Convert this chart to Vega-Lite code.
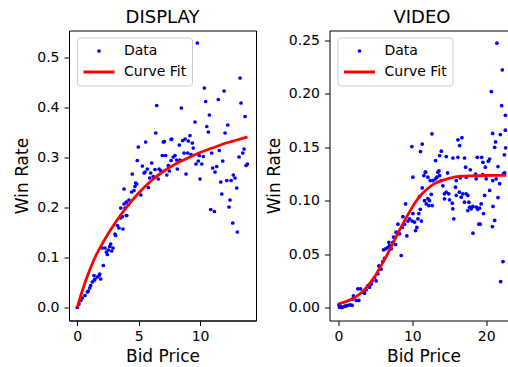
{
  "$schema": "https://vega.github.io/schema/vega-lite/v6.json",
  "padding": {"left": 13, "top": 8.5, "right": 0, "bottom": 0},
  "background": "white",
  "config": {
    "font": "DejaVu Sans",
    "view": {"stroke": "black", "strokeWidth": 1},
    "axis": {"grid": false, "domainColor": "black", "tickColor": "black", "labelColor": "black", "titleColor": "black", "labelFontSize": 14, "titleFontSize": 17, "titleFontWeight": "normal", "tickSize": 5, "domainWidth": 1, "tickWidth": 1, "labelFont": "DejaVu Sans", "titleFont": "DejaVu Sans"},
    "axisX": {"labelPadding": 4, "titlePadding": 5, "labelFlush": false},
    "axisY": {"labelPadding": 5, "titlePadding": 5, "labelFlush": false},
    "title": {"fontSize": 18, "fontWeight": "normal", "font": "DejaVu Sans", "color": "black", "frame": "group", "anchor": "middle", "baseline": "alphabetic", "offset": 3.5},
    "legend": {"orient": "none", "legendY": 7, "fillColor": "white", "strokeColor": "#cccccc", "cornerRadius": 3, "padding": 5, "labelFontSize": 14, "labelColor": "black", "labelFont": "DejaVu Sans", "labelOffset": 8, "rowPadding": 4, "clipHeight": 17, "symbolStrokeWidth": 2.8, "symbolOpacity": 1}
  },
  "datasets": {
    "display": [
      {"x":0,"y":0,"series":"Data"},{"x":0.14,"y":0.007,"series":"Data"},{"x":0.28,"y":0.014,"series":"Data"},{"x":0.41,"y":0.019,"series":"Data"},{"x":0.63,"y":0.024,"series":"Data"},{"x":0.82,"y":0.031,"series":"Data"},{"x":0.9,"y":0.033,"series":"Data"},{"x":1.01,"y":0.039,"series":"Data"},{"x":1.09,"y":0.044,"series":"Data"},{"x":1.22,"y":0.051,"series":"Data"},{"x":1.36,"y":0.054,"series":"Data"},{"x":1.44,"y":0.057,"series":"Data"},{"x":1.36,"y":0.064,"series":"Data"},{"x":1.63,"y":0.061,"series":"Data"},{"x":1.77,"y":0.064,"series":"Data"},{"x":1.91,"y":0.057,"series":"Data"},{"x":1.83,"y":0.067,"series":"Data"},{"x":2.12,"y":0.084,"series":"Data"},{"x":2.04,"y":0.119,"series":"Data"},{"x":2.26,"y":0.119,"series":"Data"},{"x":2.37,"y":0.111,"series":"Data"},{"x":2.45,"y":0.106,"series":"Data"},{"x":2.53,"y":0.115,"series":"Data"},{"x":2.64,"y":0.122,"series":"Data"},{"x":2.72,"y":0.127,"series":"Data"},{"x":2.8,"y":0.113,"series":"Data"},{"x":2.91,"y":0.119,"series":"Data"},{"x":3.07,"y":0.147,"series":"Data"},{"x":3.13,"y":0.144,"series":"Data"},{"x":3.26,"y":0.164,"series":"Data"},{"x":3.4,"y":0.159,"series":"Data"},{"x":3.54,"y":0.179,"series":"Data"},{"x":3.67,"y":0.182,"series":"Data"},{"x":3.72,"y":0.157,"series":"Data"},{"x":3.99,"y":0.184,"series":"Data"},{"x":3.54,"y":0.199,"series":"Data"},{"x":3.81,"y":0.207,"series":"Data"},{"x":3.99,"y":0.211,"series":"Data"},{"x":4.16,"y":0.206,"series":"Data"},
      {"x":4.21,"y":0.215,"series":"Data"},{"x":3.89,"y":0.199,"series":"Data"},{"x":4.03,"y":0.184,"series":"Data"},{"x":3.81,"y":0.237,"series":"Data"},{"x":4.43,"y":0.231,"series":"Data"},{"x":4.62,"y":0.234,"series":"Data"},{"x":4.7,"y":0.242,"series":"Data"},{"x":4.76,"y":0.249,"series":"Data"},{"x":4.84,"y":0.247,"series":"Data"},{"x":4.48,"y":0.267,"series":"Data"},{"x":5.18,"y":0.225,"series":"Data"},{"x":5.79,"y":0.24,"series":"Data"},{"x":5.3,"y":0.283,"series":"Data"},{"x":5.44,"y":0.269,"series":"Data"},{"x":5.52,"y":0.271,"series":"Data"},{"x":5.71,"y":0.277,"series":"Data"},{"x":5.9,"y":0.259,"series":"Data"},{"x":5.98,"y":0.269,"series":"Data"},{"x":6.06,"y":0.289,"series":"Data"},{"x":6.19,"y":0.262,"series":"Data"},{"x":6.33,"y":0.276,"series":"Data"},{"x":6.6,"y":0.257,"series":"Data"},{"x":6.66,"y":0.277,"series":"Data"},{"x":6.8,"y":0.274,"series":"Data"},{"x":4.89,"y":0.294,"series":"Data"},{"x":4.97,"y":0.321,"series":"Data"},{"x":5.57,"y":0.331,"series":"Data"},{"x":6.39,"y":0.349,"series":"Data"},{"x":6.47,"y":0.404,"series":"Data"},{"x":7.01,"y":0.331,"series":"Data"},{"x":6.93,"y":0.304,"series":"Data"},{"x":7.09,"y":0.332,"series":"Data"},{"x":7.29,"y":0.265,"series":"Data"},{"x":7.64,"y":0.336,"series":"Data"},{"x":7.69,"y":0.337,"series":"Data"},{"x":8.31,"y":0.325,"series":"Data"},{"x":8.48,"y":0.399,"series":"Data"},
      {"x":9.78,"y":0.529,"series":"Data"},{"x":13.26,"y":0.459,"series":"Data"},{"x":10.35,"y":0.439,"series":"Data"},{"x":11.96,"y":0.433,"series":"Data"},{"x":10.46,"y":0.412,"series":"Data"},{"x":11.49,"y":0.416,"series":"Data"},{"x":13.34,"y":0.409,"series":"Data"},{"x":10.76,"y":0.385,"series":"Data"},{"x":13.67,"y":0.382,"series":"Data"},{"x":9.59,"y":0.371,"series":"Data"},{"x":10.55,"y":0.362,"series":"Data"},{"x":12.26,"y":0.365,"series":"Data"},{"x":9.18,"y":0.344,"series":"Data"},{"x":10.68,"y":0.351,"series":"Data"},{"x":12.04,"y":0.349,"series":"Data"},{"x":8.78,"y":0.337,"series":"Data"},
      {"x":8.59,"y":0.334,"series":"Data"},{"x":9.05,"y":0.333,"series":"Data"},{"x":9.37,"y":0.329,"series":"Data"},{"x":9.45,"y":0.319,"series":"Data"},{"x":7.2,"y":0.304,"series":"Data"},{"x":7.96,"y":0.304,"series":"Data"},{"x":7.82,"y":0.301,"series":"Data"},{"x":8.7,"y":0.309,"series":"Data"},{"x":9.0,"y":0.309,"series":"Data"},{"x":9.27,"y":0.306,"series":"Data"},{"x":9.94,"y":0.304,"series":"Data"},{"x":10.27,"y":0.302,"series":"Data"},{"x":10.95,"y":0.309,"series":"Data"},{"x":11.57,"y":0.314,"series":"Data"},{"x":13.59,"y":0.317,"series":"Data"},{"x":13.48,"y":0.309,"series":"Data"},{"x":13.18,"y":0.301,"series":"Data"},{"x":7.64,"y":0.294,"series":"Data"},{"x":8.1,"y":0.295,"series":"Data"},{"x":8.37,"y":0.295,"series":"Data"},{"x":7.42,"y":0.284,"series":"Data"},{"x":9.86,"y":0.293,"series":"Data"},{"x":9.67,"y":0.287,"series":"Data"},{"x":10.14,"y":0.287,"series":"Data"},{"x":11.85,"y":0.293,"series":"Data"},{"x":7.5,"y":0.273,"series":"Data"},{"x":8.15,"y":0.277,"series":"Data"},{"x":8.86,"y":0.267,"series":"Data"},{"x":11.03,"y":0.279,"series":"Data"},{"x":11.36,"y":0.282,"series":"Data"},{"x":11.22,"y":0.271,"series":"Data"},{"x":13.86,"y":0.287,"series":"Data"},{"x":13.75,"y":0.284,"series":"Data"},{"x":12.71,"y":0.265,"series":"Data"},{"x":12.85,"y":0.259,"series":"Data"},{"x":10.0,"y":0.257,"series":"Data"},{"x":11.69,"y":0.251,"series":"Data"},{"x":12.18,"y":0.254,"series":"Data"},{"x":12.53,"y":0.254,"series":"Data"},{"x":12.99,"y":0.239,"series":"Data"},{"x":11.77,"y":0.227,"series":"Data"},{"x":12.44,"y":0.215,"series":"Data"},{"x":12.36,"y":0.201,"series":"Data"},{"x":10.87,"y":0.196,"series":"Data"},{"x":11.17,"y":0.192,"series":"Data"},{"x":12.66,"y":0.169,"series":"Data"},{"x":13.04,"y":0.151,"series":"Data"}
    ],
    "displayFit": [
      {"x":0,"y":0},{"x":0.25,"y":0.021},{"x":0.5,"y":0.04},{"x":0.75,"y":0.058},{"x":1,"y":0.074},{"x":1.5,"y":0.103},{"x":2,"y":0.126},{"x":2.5,"y":0.147},{"x":3,"y":0.166},{"x":3.5,"y":0.184},{"x":4,"y":0.2},{"x":5,"y":0.229},{"x":6,"y":0.253},{"x":7,"y":0.272},{"x":8,"y":0.287},{"x":9,"y":0.299},{"x":10,"y":0.31},{"x":11,"y":0.319},{"x":12,"y":0.328},{"x":13,"y":0.335},{"x":13.87,"y":0.341}
    ],
    "video": [
      {"x":0.05,"y":0.0025,"series":"Data"},{"x":0.14,"y":0.0003,"series":"Data"},{"x":0.3,"y":0.001,"series":"Data"},{"x":0.5,"y":0.0,"series":"Data"},{"x":0.81,"y":0.001,"series":"Data"},{"x":1.0,"y":0.0015,"series":"Data"},{"x":1.26,"y":0.002,"series":"Data"},{"x":1.58,"y":0.0025,"series":"Data"},{"x":1.85,"y":0.002,"series":"Data"},{"x":2.03,"y":0.011,"series":"Data"},{"x":1.94,"y":0.008,"series":"Data"},{"x":2.4,"y":0.0066,"series":"Data"},{"x":2.75,"y":0.0066,"series":"Data"},{"x":2.62,"y":0.0175,"series":"Data"},{"x":2.98,"y":0.0175,"series":"Data"},{"x":3.3,"y":0.0143,"series":"Data"},{"x":3.52,"y":0.0134,"series":"Data"},{"x":3.75,"y":0.0166,"series":"Data"},{"x":3.97,"y":0.0206,"series":"Data"},{"x":4.2,"y":0.019,"series":"Data"},{"x":4.43,"y":0.022,"series":"Data"},{"x":4.56,"y":0.025,"series":"Data"},{"x":4.88,"y":0.028,"series":"Data"},{"x":5.1,"y":0.025,"series":"Data"},{"x":5.33,"y":0.0316,"series":"Data"},{"x":5.56,"y":0.038,"series":"Data"},{"x":5.46,"y":0.039,"series":"Data"},{"x":5.78,"y":0.036,"series":"Data"},{"x":6.0,"y":0.043,"series":"Data"},{"x":6.23,"y":0.046,"series":"Data"},{"x":6.1,"y":0.054,"series":"Data"},{"x":6.37,"y":0.055,"series":"Data"},{"x":6.68,"y":0.056,"series":"Data"},{"x":6.82,"y":0.061,"series":"Data"},{"x":6.91,"y":0.058,"series":"Data"},{"x":7.14,"y":0.055,"series":"Data"},{"x":7.36,"y":0.061,"series":"Data"},{"x":7.45,"y":0.066,"series":"Data"},{"x":7.72,"y":0.059,"series":"Data"},{"x":7.81,"y":0.0705,"series":"Data"},{"x":8.04,"y":0.078,"series":"Data"},{"x":8.27,"y":0.069,"series":"Data"},{"x":8.49,"y":0.0487,"series":"Data"},{"x":8.63,"y":0.075,"series":"Data"},{"x":8.72,"y":0.085,"series":"Data"},{"x":8.94,"y":0.078,"series":"Data"},{"x":9.08,"y":0.097,"series":"Data"},{"x":9.26,"y":0.067,"series":"Data"},{"x":9.4,"y":0.081,"series":"Data"},{"x":9.62,"y":0.083,"series":"Data"},{"x":9.98,"y":0.081,"series":"Data"},{"x":10.07,"y":0.088,"series":"Data"},{"x":10.3,"y":0.08,"series":"Data"},{"x":10.43,"y":0.072,"series":"Data"},{"x":10.61,"y":0.075,"series":"Data"},{"x":10.75,"y":0.083,"series":"Data"},{"x":10.88,"y":0.088,"series":"Data"},{"x":11.07,"y":0.092,"series":"Data"},{"x":11.21,"y":0.081,"series":"Data"},{"x":10.98,"y":0.104,"series":"Data"},{"x":11.34,"y":0.112,"series":"Data"},{"x":11.65,"y":0.1,"series":"Data"},{"x":11.88,"y":0.097,"series":"Data"},{"x":12.1,"y":0.102,"series":"Data"},{"x":12.24,"y":0.0955,"series":"Data"},{"x":12.7,"y":0.0955,"series":"Data"},{"x":12.33,"y":0.1,"series":"Data"},{"x":12.56,"y":0.106,"series":"Data"},
      {"x":11.56,"y":0.1236,"series":"Data"},{"x":11.75,"y":0.1267,"series":"Data"},{"x":12.1,"y":0.122,"series":"Data"},{"x":12.42,"y":0.1189,"series":"Data"},{"x":12.78,"y":0.1189,"series":"Data"},{"x":13.14,"y":0.1205,"series":"Data"},{"x":13.45,"y":0.1267,"series":"Data"},{"x":13.32,"y":0.122,"series":"Data"},{"x":13.68,"y":0.1236,"series":"Data"},{"x":13.92,"y":0.1189,"series":"Data"},{"x":10.07,"y":0.122,"series":"Data"},
      {"x":15.94,"y":0.1189,"series":"Data"},{"x":16.48,"y":0.1214,"series":"Data"},{"x":17.29,"y":0.122,"series":"Data"},{"x":18.64,"y":0.1205,"series":"Data"},{"x":19.54,"y":0.1245,"series":"Data"},{"x":20.0,"y":0.1205,"series":"Data"},{"x":20.89,"y":0.1189,"series":"Data"},{"x":21.35,"y":0.1205,"series":"Data"},
      {"x":14.13,"y":0.114,"series":"Data"},{"x":14.35,"y":0.1065,"series":"Data"},{"x":14.58,"y":0.108,"series":"Data"},{"x":14.93,"y":0.1065,"series":"Data"},{"x":14.35,"y":0.1018,"series":"Data"},{"x":15.03,"y":0.1009,"series":"Data"},{"x":15.4,"y":0.0977,"series":"Data"},{"x":15.48,"y":0.0924,"series":"Data"},{"x":15.61,"y":0.0831,"series":"Data"},{"x":15.84,"y":0.1127,"series":"Data"},{"x":15.94,"y":0.1049,"series":"Data"},{"x":16.38,"y":0.108,"series":"Data"},{"x":16.61,"y":0.1033,"series":"Data"},{"x":16.83,"y":0.1065,"series":"Data"},{"x":17.06,"y":0.0986,"series":"Data"},{"x":17.29,"y":0.1065,"series":"Data"},{"x":17.51,"y":0.1049,"series":"Data"},{"x":17.65,"y":0.0986,"series":"Data"},{"x":17.74,"y":0.0939,"series":"Data"},{"x":17.51,"y":0.0908,"series":"Data"},{"x":17.97,"y":0.0924,"series":"Data"},
      {"x":18.19,"y":0.0946,"series":"Data"},{"x":18.64,"y":0.094,"series":"Data"},{"x":18.86,"y":0.092,"series":"Data"},{"x":19.09,"y":0.093,"series":"Data"},{"x":19.32,"y":0.097,"series":"Data"},{"x":19.63,"y":0.088,"series":"Data"},{"x":19.0,"y":0.078,"series":"Data"},{"x":19.19,"y":0.078,"series":"Data"},{"x":18.2,"y":0.0696,"series":"Data"},{"x":19.78,"y":0.105,"series":"Data"},{"x":20.46,"y":0.1096,"series":"Data"},{"x":20.91,"y":0.0946,"series":"Data"},{"x":21.14,"y":0.0815,"series":"Data"},{"x":20.83,"y":0.0758,"series":"Data"},{"x":21.59,"y":0.103,"series":"Data"},{"x":21.82,"y":0.116,"series":"Data"},{"x":22.27,"y":0.043,"series":"Data"},{"x":21.95,"y":0.0243,"series":"Data"},{"x":22.5,"y":0.126,"series":"Data"},
      {"x":21.45,"y":0.2475,"series":"Data"},{"x":22.18,"y":0.2226,"series":"Data"},{"x":20.69,"y":0.2022,"series":"Data"},{"x":22.09,"y":0.189,"series":"Data"},{"x":22.6,"y":0.18,"series":"Data"},{"x":20.87,"y":0.163,"series":"Data"},{"x":22.59,"y":0.166,"series":"Data"},{"x":21.91,"y":0.162,"series":"Data"},{"x":12.65,"y":0.1626,"series":"Data"},{"x":16.17,"y":0.157,"series":"Data"},{"x":16.71,"y":0.159,"series":"Data"},{"x":11.34,"y":0.153,"series":"Data"},{"x":9.93,"y":0.1507,"series":"Data"},{"x":16.4,"y":0.1517,"series":"Data"},{"x":21.27,"y":0.155,"series":"Data"},{"x":21.14,"y":0.15,"series":"Data"},{"x":11.11,"y":0.146,"series":"Data"},{"x":13.92,"y":0.1464,"series":"Data"},{"x":13.69,"y":0.1423,"series":"Data"},{"x":13.14,"y":0.1376,"series":"Data"},{"x":14.59,"y":0.1414,"series":"Data"},{"x":15.49,"y":0.14,"series":"Data"},{"x":16.17,"y":0.1407,"series":"Data"},{"x":17.07,"y":0.14,"series":"Data"},{"x":18.79,"y":0.1407,"series":"Data"},{"x":19.38,"y":0.1407,"series":"Data"},{"x":20.46,"y":0.139,"series":"Data"},{"x":20.28,"y":0.137,"series":"Data"},{"x":19.55,"y":0.136,"series":"Data"},{"x":22.45,"y":0.143,"series":"Data"},{"x":22.63,"y":0.1495,"series":"Data"},{"x":11.79,"y":0.1267,"series":"Data"},{"x":13.6,"y":0.128,"series":"Data"},{"x":14.77,"y":0.126,"series":"Data"},{"x":17.21,"y":0.1314,"series":"Data"},{"x":17.84,"y":0.129,"series":"Data"},{"x":18.56,"y":0.125,"series":"Data"},{"x":19.88,"y":0.1314,"series":"Data"},{"x":21.59,"y":0.132,"series":"Data"},{"x":22.36,"y":0.1257,"series":"Data"}
    ],
    "videoFit": [
      {"x":0,"y":0.0035},{"x":1,"y":0.0055},{"x":2,"y":0.0087},{"x":3,"y":0.0134},{"x":4,"y":0.0205},{"x":5,"y":0.03},{"x":6,"y":0.042},{"x":7,"y":0.055},{"x":8,"y":0.069},{"x":9,"y":0.082},{"x":10,"y":0.094},{"x":11,"y":0.104},{"x":12,"y":0.111},{"x":13,"y":0.116},{"x":14,"y":0.119},{"x":15,"y":0.121},{"x":16,"y":0.1225},{"x":18,"y":0.1233},{"x":20,"y":0.1236},{"x":22.7,"y":0.1237}
    ]
  },
  "spacing": 7.5,
  "resolve": {"scale": {"x": "independent", "y": "independent", "shape": "independent", "fill": "independent", "stroke": "independent", "size": "independent"}, "legend": {"shape": "independent", "fill": "independent", "stroke": "independent", "size": "independent"}},
  "hconcat": [
    {
      "title": {"text": "DISPLAY"},
      "width": 187,
      "height": 290,
      "layer": [
        {
          "data": {"name": "display"},
          "mark": {"type": "point", "filled": true, "opacity": 1, "strokeWidth": 0},
          "encoding": {
            "x": {"field": "x", "type": "quantitative", "scale": {"domain": [-0.676, 14.56], "nice": false, "zero": false}, "axis": {"values": [0, 5, 10], "title": "Bid Price"}},
            "y": {"field": "y", "type": "quantitative", "scale": {"domain": [-0.026, 0.554], "nice": false, "zero": false}, "axis": {"values": [0, 0.1, 0.2, 0.3, 0.4, 0.5], "format": ".1f", "title": "Win Rate"}},
            "shape": {"field": "series", "type": "nominal", "scale": {"domain": ["Data", "Curve Fit"], "range": ["circle", "stroke"]}, "legend": {"title": null, "legendX": 8, "legendY": 7}},
            "size": {"field": "series", "type": "nominal", "scale": {"domain": ["Data", "Curve Fit"], "range": [14, 961]}, "legend": {"title": null, "legendX": 8, "legendY": 7}},
            "fill": {"field": "series", "type": "nominal", "scale": {"domain": ["Data", "Curve Fit"], "range": ["blue", "red"]}, "legend": {"title": null, "legendX": 8, "legendY": 7}},
            "stroke": {"field": "series", "type": "nominal", "scale": {"domain": ["Data", "Curve Fit"], "range": ["transparent", "red"]}, "legend": {"title": null, "legendX": 8, "legendY": 7}}
          }
        },
        {
          "data": {"name": "displayFit"},
          "mark": {"type": "line", "color": "red", "strokeWidth": 2.8, "interpolate": "monotone"},
          "encoding": {
            "x": {"field": "x", "type": "quantitative"},
            "y": {"field": "y", "type": "quantitative"}
          }
        }
      ]
    },
    {
      "title": {"text": "VIDEO", "dx": 3.5},
      "width": 178,
      "height": 290,
      "view": {"stroke": null},
      "resolve": {"axis": {"x": "independent"}},
      "layer": [
        {
          "data": {"name": "video"},
          "mark": {"type": "point", "filled": true, "opacity": 1, "strokeWidth": 0},
          "encoding": {
            "x": {"field": "x", "type": "quantitative", "scale": {"domain": [-1.219, 22.88], "nice": false, "zero": false}, "axis": {"values": [0, 10, 20], "title": "Bid Price", "titleX": 94}},
            "y": {"field": "y", "type": "quantitative", "scale": {"domain": [-0.01217, 0.2594], "nice": false, "zero": false}, "axis": {"values": [0, 0.05, 0.1, 0.15, 0.2, 0.25], "format": ".2f", "title": "Win Rate"}},
            "shape": {"field": "series", "type": "nominal", "scale": {"domain": ["Data", "Curve Fit"], "range": ["circle", "stroke"]}, "legend": {"title": null, "legendX": 8, "legendY": 7}},
            "size": {"field": "series", "type": "nominal", "scale": {"domain": ["Data", "Curve Fit"], "range": [14, 961]}, "legend": {"title": null, "legendX": 8, "legendY": 7}},
            "fill": {"field": "series", "type": "nominal", "scale": {"domain": ["Data", "Curve Fit"], "range": ["blue", "red"]}, "legend": {"title": null, "legendX": 8, "legendY": 7}},
            "stroke": {"field": "series", "type": "nominal", "scale": {"domain": ["Data", "Curve Fit"], "range": ["transparent", "red"]}, "legend": {"title": null, "legendX": 8, "legendY": 7}}
          }
        },
        {
          "data": {"name": "videoFit"},
          "mark": {"type": "line", "color": "red", "strokeWidth": 2.8, "interpolate": "monotone"},
          "encoding": {
            "x": {"field": "x", "type": "quantitative", "axis": {"orient": "top", "labels": false, "ticks": false, "title": null, "domain": true}},
            "y": {"field": "y", "type": "quantitative"}
          }
        }
      ]
    }
  ]
}
